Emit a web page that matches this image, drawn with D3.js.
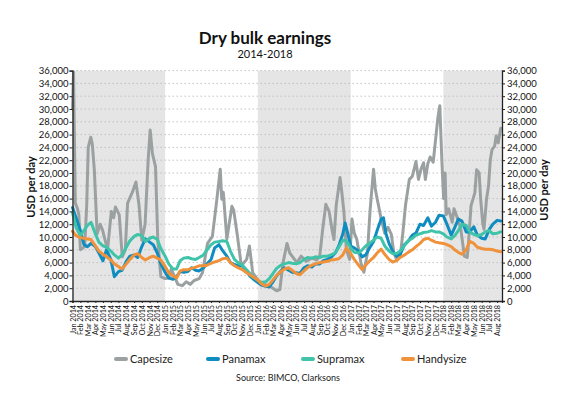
<!DOCTYPE html>
<html>
<head>
<meta charset="utf-8">
<script src="https://cdn.jsdelivr.net/npm/d3@7"></script>
<style>
  body { margin: 0; background: #fff; }
  svg { font-family: Lato, "Open Sans", sans-serif; }
</style>
</head>
<body>
<svg id="chart" width="569" height="395"></svg>
<script>
// values, USD per day
var capesize = [
  ["2014-01-01",30000],["2014-01-05",35800],["2014-01-09",24000],["2014-01-12",15300],["2014-01-20",14500],["2014-01-26",13500],
  ["2014-02-01",8000],["2014-02-18",8500],["2014-02-26",15000],["2014-03-04",24000],["2014-03-14",25600],
  ["2014-03-20",24500],["2014-03-28",20500],["2014-04-08",10500],["2014-04-20",12000],["2014-04-30",11000],
  ["2014-05-19",8000],["2014-06-03",14000],["2014-06-12",13000],["2014-06-19",14700],["2014-07-04",13500],
  ["2014-07-16",6900],["2014-07-28",8000],["2014-08-06",15300],["2014-08-25",17000],["2014-09-08",18600],
  ["2014-09-20",15000],["2014-10-01",9500],["2014-10-14",12000],["2014-10-26",22000],["2014-11-03",26700],
  ["2014-11-12",23000],["2014-11-24",21000],["2014-12-03",9500],["2014-12-15",3800],["2015-01-01",3500],
  ["2015-01-15",3600],["2015-01-25",5000],["2015-02-05",4000],["2015-02-20",2600],["2015-03-10",2400],
  ["2015-03-25",3000],["2015-04-10",2600],["2015-04-25",3200],["2015-05-15",3500],["2015-05-28",4400],
  ["2015-06-17",9000],["2015-07-06",10100],["2015-07-22",15300],["2015-08-06",20600],["2015-08-12",15900],
  ["2015-08-18",17000],["2015-09-01",9700],["2015-09-21",14800],["2015-09-28",14200],["2015-10-13",10100],
  ["2015-10-28",5500],["2015-11-18",6500],["2015-11-29",8600],["2015-12-12",4400],["2016-01-10",2800],
  ["2016-02-18",2300],["2016-03-15",1600],["2016-03-28",1800],["2016-04-09",5900],["2016-04-25",9000],
  ["2016-05-06",7500],["2016-06-03",6000],["2016-06-20",7000],["2016-07-10",6200],["2016-08-01",6700],
  ["2016-08-20",6400],["2016-09-01",7000],["2016-09-12",11000],["2016-09-25",15100],["2016-10-08",14000],
  ["2016-10-20",11000],["2016-10-27",9600],["2016-11-05",15000],["2016-11-20",19300],["2016-11-27",17000],
  ["2016-12-05",14000],["2016-12-15",8000],["2016-12-28",6500],["2017-01-06",12800],["2017-01-15",10600],
  ["2017-01-25",9600],["2017-02-10",6000],["2017-02-22",4500],["2017-03-08",7500],["2017-03-18",14000],
  ["2017-04-01",20600],["2017-04-08",17500],["2017-04-15",16000],["2017-04-30",13000],["2017-05-15",10600],
  ["2017-05-28",11500],["2017-06-10",10400],["2017-06-20",7500],["2017-07-01",6500],["2017-07-15",7000],
  ["2017-07-25",10500],["2017-08-05",15000],["2017-08-20",19000],["2017-09-01",19500],["2017-09-15",21800],
  ["2017-09-25",19000],["2017-10-05",20600],["2017-10-15",21600],["2017-10-22",19000],["2017-11-01",21500],
  ["2017-11-10",22500],["2017-11-22",21700],["2017-12-10",28500],["2017-12-18",30500],["2017-12-26",22000],
  ["2018-01-02",16000],["2018-01-08",20000],["2018-01-12",13500],["2018-01-22",14400],["2018-02-05",12300],
  ["2018-02-12",14400],["2018-02-25",13000],["2018-03-10",11400],["2018-03-25",7000],["2018-04-05",6800],
  ["2018-04-10",9100],["2018-04-20",14900],["2018-05-05",16900],["2018-05-12",20500],["2018-05-22",20000],
  ["2018-05-28",15900],["2018-06-05",12200],["2018-06-10",11200],["2018-06-20",15900],["2018-06-28",18000],
  ["2018-07-05",22100],["2018-07-12",23700],["2018-07-22",24200],["2018-07-28",25800],["2018-08-05",24700],
  ["2018-08-15",27000]
];
var panamax = [
  ["2014-01-01",14600],["2014-01-15",13000],["2014-02-01",11000],["2014-02-15",8800],["2014-03-01",8500],
  ["2014-03-15",9000],["2014-04-01",8500],["2014-04-15",7500],["2014-05-01",6300],["2014-05-15",8000],
  ["2014-06-01",6500],["2014-06-15",3800],["2014-07-01",4600],["2014-07-15",4800],["2014-08-01",6200],
  ["2014-08-15",7000],["2014-09-01",7200],["2014-09-15",6800],["2014-10-01",8500],["2014-10-15",9700],
  ["2014-11-01",9200],["2014-11-15",8800],["2014-12-01",7500],["2014-12-15",5800],["2015-01-01",4500],
  ["2015-01-15",3600],["2015-02-01",3400],["2015-02-15",3800],["2015-03-01",4600],["2015-03-15",4500],
  ["2015-04-01",4600],["2015-04-15",5200],["2015-05-01",4800],["2015-05-15",4700],["2015-06-01",5200],
  ["2015-06-15",5800],["2015-07-01",6500],["2015-07-15",8300],["2015-08-01",8800],["2015-08-15",7900],
  ["2015-09-01",7000],["2015-09-15",6000],["2015-10-01",5700],["2015-10-15",5500],["2015-11-01",5500],
  ["2015-11-15",4800],["2015-12-01",3900],["2015-12-15",3400],["2016-01-01",2900],["2016-01-15",2500],
  ["2016-02-01",2300],["2016-02-15",2200],["2016-03-01",3000],["2016-03-15",3900],["2016-04-01",4700],
  ["2016-04-15",5200],["2016-05-01",4800],["2016-05-15",4500],["2016-06-01",4400],["2016-06-15",4300],
  ["2016-07-01",5200],["2016-07-15",5500],["2016-08-01",5300],["2016-08-15",5800],["2016-09-01",5800],
  ["2016-09-15",6300],["2016-10-01",6500],["2016-10-15",6800],["2016-11-01",7500],["2016-11-15",8600],
  ["2016-12-01",10500],["2016-12-10",12200],["2016-12-20",10600],["2017-01-01",8600],["2017-01-15",8300],
  ["2017-02-01",7800],["2017-02-15",6900],["2017-03-01",7200],["2017-03-15",8200],["2017-04-01",9300],
  ["2017-04-15",11000],["2017-05-01",12800],["2017-05-10",13000],["2017-05-20",10500],["2017-06-01",9000],
  ["2017-06-15",7800],["2017-07-01",7000],["2017-07-15",7300],["2017-08-01",8800],["2017-08-15",9300],
  ["2017-09-01",10300],["2017-09-15",10600],["2017-10-01",12000],["2017-10-15",11800],["2017-11-01",13000],
  ["2017-11-15",11700],["2017-12-01",12300],["2017-12-15",13400],["2018-01-01",13300],["2018-01-15",12000],
  ["2018-02-01",10300],["2018-02-15",11500],["2018-03-01",12800],["2018-03-15",12500],["2018-04-01",10800],
  ["2018-04-15",10800],["2018-05-01",11600],["2018-05-15",10300],["2018-06-01",9800],["2018-06-15",9700],
  ["2018-07-01",11200],["2018-07-15",12000],["2018-08-01",12600],["2018-08-15",12500]
];
var supramax = [
  ["2014-01-01",13800],["2014-01-15",11500],["2014-02-01",10200],["2014-02-15",11000],["2014-03-01",11800],
  ["2014-03-15",12300],["2014-04-01",10500],["2014-04-15",9200],["2014-05-01",8600],["2014-05-15",8400],
  ["2014-06-01",7800],["2014-06-15",7200],["2014-07-01",6700],["2014-07-15",7200],["2014-08-01",8400],
  ["2014-08-15",9400],["2014-09-01",10100],["2014-09-15",10400],["2014-10-01",10200],["2014-10-15",9300],
  ["2014-11-01",9800],["2014-11-15",10000],["2014-12-01",9600],["2014-12-15",8200],["2015-01-01",7000],
  ["2015-01-15",5800],["2015-02-01",5000],["2015-02-15",5000],["2015-03-01",6300],["2015-03-15",6700],
  ["2015-04-01",6800],["2015-04-15",6600],["2015-05-01",6500],["2015-05-15",6800],["2015-06-01",7200],
  ["2015-06-15",8000],["2015-07-01",8800],["2015-07-15",9200],["2015-08-01",9300],["2015-08-15",9400],
  ["2015-09-01",9300],["2015-09-15",7800],["2015-10-01",6500],["2015-10-15",6000],["2015-11-01",5600],
  ["2015-11-15",5000],["2015-12-01",4300],["2015-12-15",3700],["2016-01-01",3200],["2016-01-15",2900],
  ["2016-02-01",3000],["2016-02-15",3500],["2016-03-01",4300],["2016-03-15",5100],["2016-04-01",5600],
  ["2016-04-15",5800],["2016-05-01",6000],["2016-05-15",5900],["2016-06-01",5800],["2016-06-15",6000],
  ["2016-07-01",6500],["2016-07-15",6800],["2016-08-01",6700],["2016-08-15",6900],["2016-09-01",6800],
  ["2016-09-15",7000],["2016-10-01",7000],["2016-10-15",7200],["2016-11-01",7500],["2016-11-15",8400],
  ["2016-12-01",9500],["2016-12-15",9400],["2017-01-01",8300],["2017-01-15",7600],["2017-02-01",7500],
  ["2017-02-15",8000],["2017-03-01",8600],["2017-03-15",9000],["2017-04-01",9500],["2017-04-15",10000],
  ["2017-05-01",9800],["2017-05-15",8600],["2017-06-01",7800],["2017-06-15",7400],["2017-07-01",7400],
  ["2017-07-15",7800],["2017-08-01",8700],["2017-08-15",9400],["2017-09-01",9800],["2017-09-15",10300],
  ["2017-10-01",10500],["2017-10-15",10700],["2017-11-01",10800],["2017-11-15",11000],["2017-12-01",10800],
  ["2017-12-15",10800],["2018-01-01",10500],["2018-01-15",10000],["2018-02-01",9700],["2018-02-15",10200],
  ["2018-03-01",11000],["2018-03-15",12000],["2018-04-01",11800],["2018-04-15",10800],["2018-05-01",10400],
  ["2018-05-15",10200],["2018-06-01",10400],["2018-06-15",10800],["2018-07-01",11000],["2018-07-15",10500],
  ["2018-08-01",10600],["2018-08-15",10800]
];
var handysize = [
  ["2014-01-01",10900],["2014-01-15",10200],["2014-02-01",9900],["2014-02-15",9800],["2014-03-01",9700],
  ["2014-03-15",9600],["2014-04-01",8600],["2014-04-15",7800],["2014-05-01",7300],["2014-05-15",6900],
  ["2014-06-01",6400],["2014-06-15",5800],["2014-07-01",5400],["2014-07-15",5000],["2014-08-01",5800],
  ["2014-08-15",6500],["2014-09-01",7200],["2014-09-15",7400],["2014-10-01",6800],["2014-10-15",6400],
  ["2014-11-01",6800],["2014-11-15",7000],["2014-12-01",6700],["2014-12-15",6400],["2015-01-01",5400],
  ["2015-01-15",4400],["2015-02-01",3900],["2015-02-15",3600],["2015-03-01",4700],["2015-03-15",4900],
  ["2015-04-01",4900],["2015-04-15",5100],["2015-05-01",5300],["2015-05-15",5500],["2015-06-01",5500],
  ["2015-06-15",5600],["2015-07-01",5900],["2015-07-15",6100],["2015-08-01",6300],["2015-08-15",6600],
  ["2015-09-01",6700],["2015-09-15",6000],["2015-10-01",5500],["2015-10-15",5200],["2015-11-01",4900],
  ["2015-11-15",4500],["2015-12-01",4100],["2015-12-15",3700],["2016-01-01",3300],["2016-01-15",2700],
  ["2016-02-01",2300],["2016-02-15",2600],["2016-03-01",3300],["2016-03-15",4000],["2016-04-01",4600],
  ["2016-04-15",5000],["2016-05-01",5200],["2016-05-15",4800],["2016-06-01",4300],["2016-06-15",4100],
  ["2016-07-01",4700],["2016-07-15",5200],["2016-08-01",5600],["2016-08-15",5800],["2016-09-01",6000],
  ["2016-09-15",6100],["2016-10-01",6200],["2016-10-15",6400],["2016-11-01",6500],["2016-11-15",6600],
  ["2016-12-01",7200],["2016-12-15",8300],["2017-01-01",7400],["2017-01-15",6500],["2017-02-01",5600],
  ["2017-02-15",4900],["2017-03-01",5600],["2017-03-15",6200],["2017-04-01",6800],["2017-04-15",7500],
  ["2017-05-01",8100],["2017-05-15",7300],["2017-06-01",6500],["2017-06-15",6100],["2017-07-01",6300],
  ["2017-07-15",6800],["2017-08-01",7200],["2017-08-15",7600],["2017-09-01",8000],["2017-09-15",8500],
  ["2017-10-01",9000],["2017-10-15",9600],["2017-11-01",9800],["2017-11-15",9500],["2017-12-01",9200],
  ["2017-12-15",9100],["2018-01-01",9000],["2018-01-15",8800],["2018-02-01",8500],["2018-02-15",8000],
  ["2018-03-01",7600],["2018-03-15",7300],["2018-04-01",8000],["2018-04-15",9300],["2018-05-01",9000],
  ["2018-05-15",8400],["2018-06-01",8200],["2018-06-15",8100],["2018-07-01",8100],["2018-07-15",8000],
  ["2018-08-01",7800],["2018-08-15",7700]
];
var seriesNames = ["Capesize", "Panamax", "Supramax", "Handysize"];
var seriesColors = ["#9ba1a1", "#0f8cc0", "#3fc4a9", "#f0923b"];
var shadedYears = [2014, 2016, 2018];
var yTicks = d3.range(0, 36001, 2000);

var svg = d3.select("#chart");
var parse = d3.timeParse("%Y-%m-%d");
var x = d3.scaleTime().domain([new Date(2014, 0, 1), new Date(2018, 7, 20)]).range([72.5, 502]);
var y = d3.scaleLinear().domain([0, 36000]).range([301, 70.6]);

// title
svg.append("text").attr("x", 265).attr("y", 44).attr("text-anchor", "middle")
  .attr("font-size", 17).attr("font-weight", "bold").attr("fill", "#111").text("Dry bulk earnings");
svg.append("text").attr("x", 265).attr("y", 58).attr("text-anchor", "middle")
  .attr("font-size", 11).attr("fill", "#111").text("2014-2018");

// alternating year shading
svg.selectAll("rect.year").data(shadedYears).enter().append("rect")
  .attr("x", function(d){ return x(new Date(d, 0, 1)); })
  .attr("width", function(d){ return Math.min(x.range()[1], x(new Date(d + 1, 0, 1))) - x(new Date(d, 0, 1)); })
  .attr("y", y(36000)).attr("height", y(0) - y(36000))
  .attr("fill", "#e5e5e5");

// dotted gridlines
svg.selectAll("line.grid").data(yTicks.slice(1)).enter().append("line")
  .attr("x1", x.range()[0]).attr("x2", x.range()[1])
  .attr("y1", function(d){ return y(d); }).attr("y2", function(d){ return y(d); })
  .attr("stroke", "#b5b5b5").attr("stroke-width", 0.8).attr("stroke-dasharray", "1.5,2.5");

// lines
var line = d3.line().x(function(d){ return x(parse(d[0])); }).y(function(d){ return y(d[1]); });
[capesize, panamax, supramax, handysize].forEach(function(s, i){
  svg.append("path").datum(s).attr("d", line)
    .attr("fill", "none").attr("stroke", seriesColors[i]).attr("stroke-width", 3)
    .attr("stroke-linejoin", "round").attr("stroke-linecap", "round");
});

// y axes
var fmt = d3.format(",");
var left = svg.append("g").attr("transform", "translate(" + x.range()[0] + ",0)")
  .call(d3.axisLeft(y).tickValues(yTicks).tickFormat(fmt).tickSize(3).tickPadding(1));
var right = svg.append("g").attr("transform", "translate(" + x.range()[1] + ",0)")
  .call(d3.axisRight(y).tickValues(yTicks).tickFormat(fmt).tickSize(3).tickPadding(2));
[left, right].forEach(function(g){
  g.select(".domain").attr("stroke", "#222").attr("stroke-width", 1.3);
  g.selectAll(".tick line").attr("stroke", "#222");
  g.selectAll("text").attr("font-family", "Lato, sans-serif").attr("font-size", 9.5).attr("fill", "#111");
});

// x axis, one label per month
var months = d3.timeMonth.range(new Date(2014, 0, 1), new Date(2018, 8, 1));
var bottom = svg.append("g").attr("transform", "translate(0," + y(0) + ")")
  .call(d3.axisBottom(x).tickValues(months).tickFormat(d3.timeFormat("%b %Y")).tickSize(2));
bottom.select(".domain").attr("stroke", "#222").attr("stroke-width", 1.3);
bottom.selectAll(".tick line").attr("stroke", "#222");
bottom.selectAll("text")
  .attr("font-family", "Lato, sans-serif").attr("font-size", 7.2).attr("fill", "#111")
  .attr("y", 0).attr("x", -4).attr("dy", "0.35em")
  .attr("transform", "rotate(-90)").attr("text-anchor", "end");

// axis titles
svg.append("text").attr("transform", "translate(35,187) rotate(-90)").attr("text-anchor", "middle")
  .attr("font-size", 11).attr("font-weight", "bold").attr("fill", "#111").text("USD per day");
svg.append("text").attr("transform", "translate(548,190) rotate(-90)").attr("text-anchor", "middle")
  .attr("font-size", 11).attr("font-weight", "bold").attr("fill", "#111").text("USD per day");

// legend
var legendX = [115, 207, 302, 402];
var legend = svg.selectAll("g.legend").data(seriesNames).enter().append("g")
  .attr("transform", function(d, i){ return "translate(" + legendX[i] + ",359)"; });
legend.append("line").attr("x1", 1).attr("x2", 11).attr("y1", 0).attr("y2", 0)
  .attr("stroke", function(d, i){ return seriesColors[i]; }).attr("stroke-width", 4).attr("stroke-linecap", "round");
legend.append("text").attr("x", 15).attr("dy", "0.35em").attr("font-size", 11).attr("fill", "#222")
  .text(function(d){ return d; });

svg.append("text").attr("x", 288).attr("y", 381).attr("text-anchor", "middle")
  .attr("font-size", 9).attr("fill", "#222").text("Source: BIMCO, Clarksons");
</script>
</body>
</html>
